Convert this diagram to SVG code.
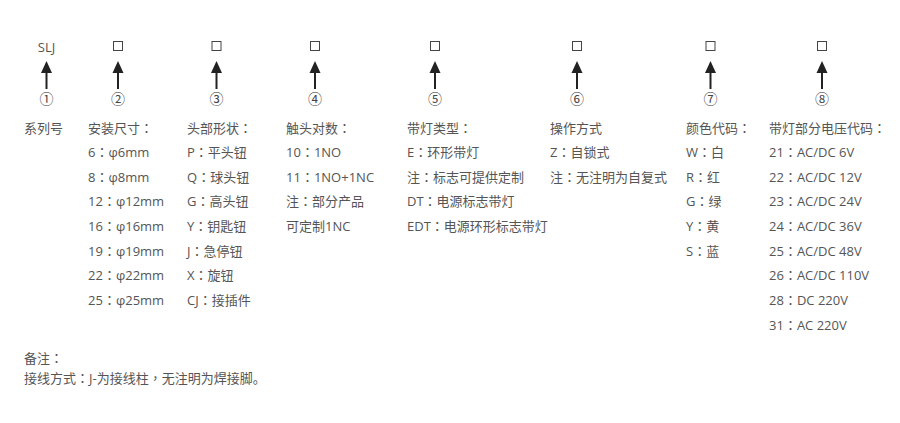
<svg xmlns="http://www.w3.org/2000/svg" width="900" height="423" viewBox="0 0 900 423">
<style>
text{font-family:"Open Sans","Noto Sans CJK SC",sans-serif;font-size:13px;fill:#555}
.p{font-family:"Noto Sans CJK TC",sans-serif}
.cj{font-family:"Noto Sans CJK SC",sans-serif}
.c{text-anchor:middle}
.num{font-family:"Noto Sans CJK SC",sans-serif;font-size:14px;fill:#444}
.box{fill:none;stroke:#444;stroke-width:1}
.shaft{stroke:#222;stroke-width:2}
.head{fill:#222}
</style>
<defs>
<g id="arr"><line class="shaft" x1="0" y1="72" x2="0" y2="89"/><polygon class="head" points="0,61 -5.5,73 5.5,73"/></g>
<rect id="sq" class="box" x="-4.5" y="41.5" width="9" height="9"/>
</defs>
<rect width="900" height="423" fill="#fff"/>
<g id="connectors">
<use href="#arr" x="46.5"/>
<use href="#arr" x="118"/>
<use href="#arr" x="216.5"/>
<use href="#arr" x="315"/>
<use href="#arr" x="435"/>
<use href="#arr" x="577"/>
<use href="#arr" x="710.5"/>
<use href="#arr" x="822"/>
</g>
<g id="n1">
<text class="c" x="46.5" y="52">SLJ</text>
<text class="c num" x="46.5" y="104">①</text>
<text x="24" y="133">系列号</text>
</g>
<g id="n2">
<use href="#sq" x="118"/>
<text class="c num" x="118" y="104">②</text>
<text x="88" y="133">安装尺寸<tspan class="p">：</tspan></text>
<text x="88" y="157">6<tspan class="p">：</tspan>φ6mm</text>
<text x="88" y="182">8<tspan class="p">：</tspan>φ8mm</text>
<text x="88" y="206">12<tspan class="p">：</tspan>φ12mm</text>
<text x="88" y="231">16<tspan class="p">：</tspan>φ16mm</text>
<text x="88" y="256">19<tspan class="p">：</tspan>φ19mm</text>
<text x="88" y="280">22<tspan class="p">：</tspan>φ22mm</text>
<text x="88" y="305">25<tspan class="p">：</tspan>φ25mm</text>
</g>
<g id="n3">
<use href="#sq" x="216.5"/>
<text class="c num" x="216.5" y="104">③</text>
<text x="187" y="133">头部形状<tspan class="p">：</tspan></text>
<text x="187" y="157">P<tspan class="p">：</tspan>平头钮</text>
<text x="187" y="182">Q<tspan class="p">：</tspan>球头钮</text>
<text x="187" y="206">G<tspan class="p">：</tspan>高头钮</text>
<text x="187" y="231">Y<tspan class="p">：</tspan>钥匙钮</text>
<text x="187" y="256">J<tspan class="p">：</tspan>急停钮</text>
<text x="187" y="280">X<tspan class="p">：</tspan>旋钮</text>
<text x="187" y="305">CJ<tspan class="p">：</tspan>接插件</text>
</g>
<g id="n4">
<use href="#sq" x="315"/>
<text class="c num" x="315" y="104">④</text>
<text x="286" y="133">触头对数<tspan class="p">：</tspan></text>
<text x="286" y="157">10<tspan class="p">：</tspan>1NO</text>
<text x="286" y="182">11<tspan class="p">：</tspan>1NO+1NC</text>
<text x="286" y="206">注<tspan class="p">：</tspan>部分产品</text>
<text x="286" y="231">可定制1NC</text>
</g>
<g id="n5">
<use href="#sq" x="435"/>
<text class="c num" x="435" y="104">⑤</text>
<text x="407" y="133">带灯类型<tspan class="p">：</tspan></text>
<text x="407" y="157">E<tspan class="p">：</tspan>环形带灯</text>
<text x="407" y="182">注<tspan class="p">：</tspan>标志可提供定制</text>
<text x="407" y="206">DT<tspan class="p">：</tspan>电源标志带灯</text>
<text x="407" y="231">EDT<tspan class="p">：</tspan>电源环形标志带灯</text>
</g>
<g id="n6">
<use href="#sq" x="577"/>
<text class="c num" x="577" y="104">⑥</text>
<text x="550" y="133">操作方式</text>
<text x="550" y="157">Z<tspan class="p">：</tspan>自锁式</text>
<text x="550" y="182">注<tspan class="p">：</tspan>无注明为自复式</text>
</g>
<g id="n7">
<use href="#sq" x="710.5"/>
<text class="c num" x="710.5" y="104">⑦</text>
<text x="686" y="133">颜色代码<tspan class="p">：</tspan></text>
<text x="686" y="157">W<tspan class="p">：</tspan>白</text>
<text x="686" y="182">R<tspan class="p">：</tspan>红</text>
<text x="686" y="206">G<tspan class="p">：</tspan>绿</text>
<text x="686" y="231">Y<tspan class="p">：</tspan>黄</text>
<text x="686" y="256">S<tspan class="p">：</tspan>蓝</text>
</g>
<g id="n8">
<use href="#sq" x="822"/>
<text class="c num" x="822" y="104">⑧</text>
<text x="769" y="133">带灯部分电压代码<tspan class="p">：</tspan></text>
<text x="769" y="157">21<tspan class="p">：</tspan>AC/DC 6V</text>
<text x="769" y="182">22<tspan class="p">：</tspan>AC/DC 12V</text>
<text x="769" y="206">23<tspan class="p">：</tspan>AC/DC 24V</text>
<text x="769" y="231">24<tspan class="p">：</tspan>AC/DC 36V</text>
<text x="769" y="256">25<tspan class="p">：</tspan>AC/DC 48V</text>
<text x="769" y="280">26<tspan class="p">：</tspan>AC/DC 110V</text>
<text x="769" y="305">28<tspan class="p">：</tspan>DC 220V</text>
<text x="769" y="330">31<tspan class="p">：</tspan>AC 220V</text>
</g>
<g id="notes">
<text x="24" y="363">备注<tspan class="p">：</tspan></text>
<text x="24" y="383">接线方式<tspan class="p">：</tspan>J-为接线柱<tspan class="p">，</tspan>无注明为焊接脚。</text>
</g>
</svg>
